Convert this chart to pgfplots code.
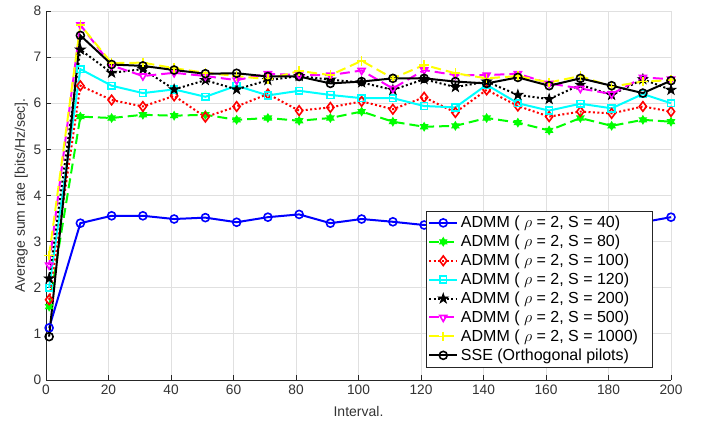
\documentclass[border=0pt]{standalone}
\usepackage{pgfplots}
\pgfplotsset{compat=1.18}
\usepackage{pgfplotstable}
\usepackage{fontspec}
\setmainfont{Liberation Sans}

\definecolor{mblue}{RGB}{0,0,255}
\definecolor{mgreen}{RGB}{0,255,0}
\definecolor{mred}{RGB}{255,0,0}
\definecolor{mcyan}{RGB}{0,255,255}
\definecolor{mmagenta}{RGB}{255,0,255}
\definecolor{myellow}{RGB}{255,255,0}

\pgfdeclareplotmark{hexagram}{%
  \pgfpathmoveto{\pgfpointpolar{90}{\pgfplotmarksize}}%
  \pgfpathlineto{\pgfpointpolar{210}{\pgfplotmarksize}}%
  \pgfpathlineto{\pgfpointpolar{330}{\pgfplotmarksize}}%
  \pgfpathclose
  \pgfpathmoveto{\pgfpointpolar{270}{\pgfplotmarksize}}%
  \pgfpathlineto{\pgfpointpolar{30}{\pgfplotmarksize}}%
  \pgfpathlineto{\pgfpointpolar{150}{\pgfplotmarksize}}%
  \pgfpathclose
  \pgfusepathqfillstroke
}
\pgfdeclareplotmark{pentagram}{%
  \pgfpathmoveto{\pgfpointpolar{90}{1.3\pgfplotmarksize}}%
  \pgfpathlineto{\pgfpointpolar{126}{0.5\pgfplotmarksize}}%
  \pgfpathlineto{\pgfpointpolar{162}{1.3\pgfplotmarksize}}%
  \pgfpathlineto{\pgfpointpolar{198}{0.5\pgfplotmarksize}}%
  \pgfpathlineto{\pgfpointpolar{234}{1.3\pgfplotmarksize}}%
  \pgfpathlineto{\pgfpointpolar{270}{0.5\pgfplotmarksize}}%
  \pgfpathlineto{\pgfpointpolar{306}{1.3\pgfplotmarksize}}%
  \pgfpathlineto{\pgfpointpolar{342}{0.5\pgfplotmarksize}}%
  \pgfpathlineto{\pgfpointpolar{18}{1.3\pgfplotmarksize}}%
  \pgfpathlineto{\pgfpointpolar{54}{0.5\pgfplotmarksize}}%
  \pgfpathclose
  \pgfusepathqfillstroke
}

\pgfplotstableread{
x   b    g    r    c    k    m    y    s
1   1.13 1.59 1.74 2.00 2.20 2.49 2.70 0.94
11  3.40 5.71 6.38 6.74 7.16 7.70 7.70 7.47
21  3.56 5.68 6.07 6.38 6.66 6.82 6.87 6.84
31  3.56 5.75 5.93 6.22 6.74 6.59 6.88 6.81
41  3.49 5.73 6.16 6.30 6.30 6.66 6.76 6.72
51  3.52 5.75 5.70 6.14 6.50 6.59 6.66 6.64
61  3.42 5.64 5.93 6.38 6.30 6.50 6.59 6.65
71  3.53 5.68 6.20 6.17 6.50 6.64 6.52 6.58
81  3.59 5.62 5.84 6.27 6.59 6.61 6.70 6.58
91  3.40 5.68 5.91 6.18 6.51 6.61 6.61 6.43
101 3.49 5.82 6.04 6.11 6.45 6.71 6.92 6.47
111 3.43 5.60 5.87 6.11 6.29 6.32 6.54 6.54
121 3.36 5.49 6.13 5.94 6.52 6.72 6.83 6.54
131 3.40 5.51 5.80 5.91 6.35 6.61 6.65 6.47
141 3.45 5.68 6.29 6.40 6.47 6.61 6.54 6.43
151 3.42 5.58 5.94 6.00 6.18 6.64 6.59 6.56
161 3.38 5.41 5.71 5.84 6.09 6.43 6.45 6.38
171 3.46 5.68 5.82 5.99 6.40 6.32 6.59 6.54
181 3.48 5.51 5.78 5.89 6.18 6.20 6.36 6.38
191 3.42 5.64 5.93 6.20 6.52 6.56 6.47 6.22
200 3.53 5.60 5.82 6.00 6.29 6.52 6.50 6.49
}\data

\begin{document}
\begin{tikzpicture}
\begin{axis}[
  name=ax,
  scale only axis,
  width=468.75pt, height=276.75pt,
  xmin=0, xmax=200, ymin=0, ymax=8,
  xtick={0,20,...,200}, ytick={0,1,...,8},
  axis lines*=left,
  tick align=inside,
  major tick length=4pt,
  grid=major,
  major grid style={black!12, line width=0.6pt},
  axis line style={black!85, line width=0.6pt},
  tick style={black!85, line width=0.6pt},
  ticklabel style={font=\fontsize{10.3}{12}\selectfont, text=black!80},
  /pgf/number format/assume math mode=true,
  xlabel={Interval.},
  ylabel={Average sum rate [bits/Hz/sec].},
  label style={font=\fontsize{10.5}{12}\selectfont, text=black!80},
  xlabel style={yshift=-2pt},
  ylabel style={yshift=-2.5pt},
  clip=false,
  legend style={at={(0.97,0.035)}, anchor=south east,
    font=\fontsize{12}{14}\selectfont, draw=black!85,
    inner sep=1.5pt, row sep=0pt},
  legend cell align=left,
  legend image code/.code={%
    \draw[mark repeat=2,mark phase=2] plot coordinates {(0cm,0cm) (0.37cm,0cm) (0.74cm,0cm)};},
  every axis plot/.append style={line width=1.5pt, mark size=3pt},
]
\addplot[mblue, solid, mark=o, mark options={solid, line width=1.2pt}] table[x=x,y=b]{\data};
\addlegendentry{ADMM ( $\rho$ = 2, S = 40)}
\addplot[mgreen, dash pattern=on 7.5pt off 3.75pt, mark=hexagram, mark options={solid, line width=0.8pt, fill=mgreen}] table[x=x,y=g]{\data};
\addlegendentry{ADMM ( $\rho$ = 2, S = 80)}
\addplot[mred, dash pattern=on 1.5pt off 1.8pt, mark=diamond, mark options={solid, line width=1.2pt, scale=1.2}] table[x=x,y=r]{\data};
\addlegendentry{ADMM ( $\rho$ = 2, S = 100)}
\addplot[mcyan, solid, mark=square, mark options={solid, line width=1.2pt, scale=0.85}] table[x=x,y=c]{\data};
\addlegendentry{ADMM ( $\rho$ = 2, S = 120)}
\addplot[black, dash pattern=on 1.5pt off 1.8pt, mark=pentagram, mark options={solid, line width=0.6pt, fill=black}] table[x=x,y=k]{\data};
\addlegendentry{ADMM ( $\rho$ = 2, S = 200)}
\addplot[mmagenta, dash pattern=on 7.5pt off 3.75pt, mark=triangle, mark options={solid, line width=1.2pt, rotate=180}] table[x=x,y=m]{\data};
\addlegendentry{ADMM ( $\rho$ = 2, S = 500)}
\addplot[myellow, dash pattern=on 7.5pt off 3.75pt, mark=+, mark options={solid, line width=1.2pt, scale=1.2}] table[x=x,y=y]{\data};
\addlegendentry{ADMM ( $\rho$ = 2, S = 1000)\rule{7pt}{0pt}}
\addplot[black, solid, mark=o, mark options={solid, line width=1.2pt}] table[x=x,y=s]{\data};
\addlegendentry{SSE (Orthogonal pilots)}
\end{axis}
\pgfresetboundingbox
\path[use as bounding box] ([xshift=-34.5pt,yshift=-32.25pt]ax.south west) rectangle ([xshift=23.25pt,yshift=8.25pt]ax.north east);
\end{tikzpicture}
\end{document}
